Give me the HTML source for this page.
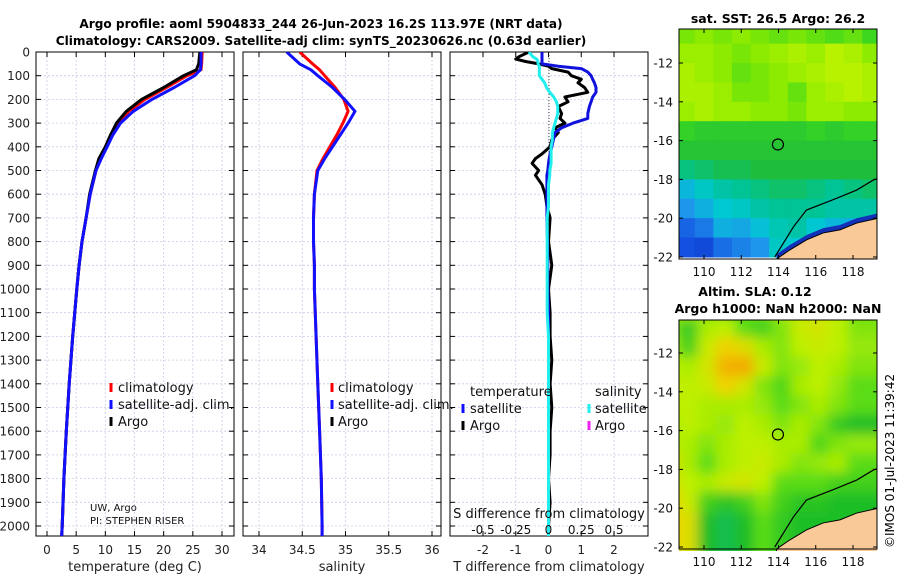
<!DOCTYPE html>
<html><head><meta charset="utf-8"><style>
body{margin:0;background:#fff}
svg{display:block;font-family:"DejaVu Sans","Liberation Sans",sans-serif}
</style></head><body>
<svg id="s" width="900" height="580" viewBox="0 0 900 580" xmlns="http://www.w3.org/2000/svg">
<defs>
<clipPath id="c1"><rect x="36" y="52" width="198" height="484"/></clipPath>
<clipPath id="c2"><rect x="243" y="52" width="198" height="484"/></clipPath>
<clipPath id="c3"><rect x="450" y="52" width="198" height="484"/></clipPath>
<clipPath id="m1c"><rect x="679" y="29" width="198" height="230"/></clipPath>
<clipPath id="m2c"><rect x="679" y="320" width="198" height="231"/></clipPath>
<filter id="bl" x="-5%" y="-5%" width="110%" height="110%"><feGaussianBlur stdDeviation="6"/></filter>
</defs>
<text x="321" y="28" text-anchor="middle" font-size="12.1" font-weight="bold">Argo profile: aoml 5904833_244 26-Jun-2023 16.2S 113.97E (NRT data)</text>
<text x="321" y="45" text-anchor="middle" font-size="12.1" font-weight="bold">Climatology: CARS2009. Satellite-adj clim: synTS_20230626.nc (0.63d earlier)</text>
<text x="778" y="23" text-anchor="middle" font-size="12.5" font-weight="bold">sat. SST: 26.5 Argo: 26.2</text>
<text x="755" y="296" text-anchor="middle" font-size="12.5" font-weight="bold">Altim. SLA: 0.12</text>
<text x="778" y="313" text-anchor="middle" font-size="12.5" font-weight="bold">Argo h1000: NaN h2000: NaN</text>
<text transform="translate(894,548) rotate(-90)" font-size="12">©IMOS 01-Jul-2023 11:39:42</text>
<g id="g"></g>
</svg>
<script>
// ---------- profile data ----------
const depths=[0,50,75,100,150,200,250,300,350,400,450,500,600,700,800,900,1000,1200,1400,1600,1800,2000,2050];
const tempClim=[26.6,26.5,26.4,24.0,20.5,16.8,14.0,12.3,11.2,10.2,9.2,8.4,7.4,6.7,6.0,5.5,5.1,4.4,3.8,3.3,2.9,2.6,2.5];
const tempSat=[26.4,26.4,26.3,25.3,21.8,18.0,14.8,12.6,11.3,10.3,9.3,8.4,7.4,6.7,6.0,5.5,5.1,4.4,3.8,3.3,2.9,2.6,2.5];
const tempArgo=[26.2,26.0,25.6,23.4,20.0,16.2,13.6,11.9,10.9,10.0,8.9,8.3,7.3,6.7,6.0,5.5,5.1,4.4,3.8,3.3,2.9,2.6,2.5];
const salClim=[34.47,34.62,34.70,34.76,34.88,34.98,35.03,34.97,34.90,34.82,34.74,34.67,34.64,34.63,34.63,34.64,34.64,34.66,34.68,34.70,34.72,34.73,34.73];
const salSat=[34.32,34.47,34.60,34.68,34.85,34.99,35.11,35.03,34.94,34.85,34.76,34.68,34.64,34.63,34.63,34.64,34.64,34.66,34.68,34.70,34.72,34.73,34.73];
const dDepth=[0,20,30,40,50,60,70,85,100,115,130,150,170,190,210,230,260,280,300,320,340,370,400,430,450,470,500,520,560,600,650,700,800,900,1000,1100,1200,1300,1400,1500,1600,1700,1800,1900,2000,2050];
const dTArgo=[-0.6,-0.9,-1.0,-0.7,-0.3,0.0,0.1,0.6,0.7,1.0,0.9,1.1,1.2,0.5,0.6,0.3,0.4,0.35,0.5,0.2,0.3,0.1,0.05,-0.2,-0.4,-0.5,-0.3,-0.4,-0.2,-0.1,-0.05,0.05,0.0,0.1,0.0,0.05,0.05,0.1,0.05,0.1,0.05,0.05,0.0,0.05,0.0,0.0];
const dTSat=[-0.2,-0.2,-0.2,-0.2,-0.2,0.3,1.0,1.2,1.3,1.35,1.4,1.45,1.45,1.35,1.3,1.25,1.2,1.2,0.75,0.4,0.2,0.15,0.1,0.05,0.02,0.0,-0.02,-0.05,-0.05,-0.05,-0.05,-0.05,-0.03,-0.02,-0.02,0.0,0.0,0.0,0.0,0.0,0.0,0.0,0.0,0.0,0.0,0.0];
const dSSat=[-0.15,-0.12,-0.09,-0.08,-0.08,-0.07,-0.07,-0.07,-0.07,-0.05,-0.03,-0.015,0.01,0.04,0.06,0.07,0.07,0.06,0.05,0.04,0.03,0.03,0.02,0.02,0.02,0.02,0.01,0.01,0.0,0.0,0.0,-0.01,-0.01,-0.01,-0.01,-0.01,0.0,0.0,0.0,0.0,0.0,0.0,0.0,0.0,0.0,0.0];
const depthTicks=[0,100,200,300,400,500,600,700,800,900,1000,1100,1200,1300,1400,1500,1600,1700,1800,1900,2000];
const tTicks=[0,5,10,15,20,25,30];
const sTicks=[34,34.5,35,35.5,36];
const sTickLabels=["34","34.5","35","35.5","36"];
const dTicks=[-2,-1,0,1,2];
const dsTicks=[-0.5,-0.25,0,0.25,0.5];
// ---------- map data ----------
const lonCenters=[109,110,111,112,113,114,115,116,117,118,119];
const latCenters=[-10.5,-11.5,-12.5,-13.5,-14.5,-15.5,-16.5,-17.5,-18.5,-19.5,-20.5,-21.5];
const sst=[
[27.1,27.2,27.1,27.2,27.1,27.0,27.1,27.0,26.9,27.0,26.8],
[27.3,27.3,27.2,27.1,27.2,27.3,27.4,27.3,27.5,27.4,27.2],
[27.4,27.3,27.2,27.0,27.1,27.2,27.3,27.4,27.5,27.5,27.4],
[27.4,27.4,27.3,27.1,27.1,27.2,27.0,27.3,27.4,27.5,27.4],
[27.3,27.4,27.3,27.3,27.2,27.2,27.1,27.3,27.3,27.2,27.2],
[26.7,26.6,26.6,26.6,26.6,26.6,26.6,26.7,26.6,26.7,26.7],
[26.5,26.5,26.5,26.5,26.5,26.5,26.5,26.5,26.5,26.5,26.5],
[26.1,26.2,26.3,26.3,26.4,26.4,26.4,26.4,26.4,26.4,26.4],
[25.4,25.7,25.9,26.0,26.1,26.2,26.2,26.1,26.0,26.1,26.2],
[25.0,25.3,25.6,25.7,25.9,26.0,26.0,26.0,25.9,25.9,25.9],
[24.5,24.7,25.3,25.2,25.5,25.8,25.9,25.6,25.4,25.3,25.0],
[24.3,24.2,24.6,24.8,25.0,25.7,25.6,25.0,24.5,24.3,24.0]];
const sla=[
[0.15,0.15,0.12,0.10,0.10,0.12,0.14,0.15,0.16,0.15,0.10],
[0.12,0.07,0.14,0.15,0.10,0.08,0.12,0.16,0.17,0.15,0.12],
[0.14,0.08,0.16,0.20,0.18,0.14,0.12,0.15,0.16,0.15,0.13],
[0.15,0.14,0.17,0.24,0.25,0.16,0.12,0.13,0.15,0.14,0.12],
[0.16,0.15,0.16,0.20,0.17,0.12,0.09,0.14,0.15,0.13,0.10],
[0.15,0.15,0.14,0.14,0.14,0.13,0.10,0.12,0.14,0.12,0.10],
[0.14,0.15,0.14,0.13,0.15,0.14,0.12,0.14,0.12,0.07,0.05],
[0.15,0.14,0.12,0.14,0.15,0.15,0.14,0.14,0.09,0.12,0.13],
[0.18,0.14,0.10,0.14,0.15,0.16,0.14,0.12,0.13,0.14,0.10],
[0.18,0.15,0.14,0.16,0.17,0.15,0.10,0.10,0.10,0.08,0.08],
[0.20,0.16,0.08,0.06,0.08,0.12,0.08,0.06,0.06,0.05,0.05],
[0.20,0.18,0.05,0.02,0.05,0.10,0.07,0.05,0.05,0.05,0.05]];
const coastLon=[113.9,114.6,115.5,116.4,117.3,118.2,119.4];
const coastLat=[-22.1,-21.64,-21.12,-20.76,-20.6,-20.25,-19.99];
const isoLon=[113.8,114.8,115.5,116.9,118.2,119.1,119.4];
const isoLat=[-22.0,-20.45,-19.58,-19.06,-18.55,-18.03,-17.93];
const lonTicks=[110,112,114,116,118];
const latTicks=[-12,-14,-16,-18,-20,-22];
const argoLon=113.97, argoLat=-16.2;

const NS="http://www.w3.org/2000/svg";
const G=document.getElementById('g');
function mk(tag,attrs,parent){const e=document.createElementNS(NS,tag);for(const k in attrs)e.setAttribute(k,attrs[k]);(parent||G).appendChild(e);return e;}
const yD=d=>52+d*0.237;
function lin(d0,d1,r0,r1){return v=>r0+(v-d0)*(r1-r0)/(d1-d0);}
const xT=lin(0,30,47,222), xS=lin(34,36,259,432), xDT=lin(-2,2,483,614), xDS=lin(-0.5,0.5,483,614);

function panel(x0,name,xs,ticks,labels,xlabel,showDepth){
  const g=mk('g',{});
  
  
  depthTicks.forEach(d=>{
    const l=mk('line',{x1:x0,x2:x0+198,y1:yD(d),y2:yD(d),stroke:'#c8cce8','stroke-width':0.8,'stroke-dasharray':'2,2'},g);
    
    mk('line',{x1:x0,x2:x0+5,y1:yD(d),y2:yD(d),stroke:'#000'},g);
    mk('line',{x1:x0+193,x2:x0+198,y1:yD(d),y2:yD(d),stroke:'#000'},g);
    if(showDepth){const t=mk('text',{x:30,y:yD(d)+4.5,'text-anchor':'end','font-size':12,fill:'#222'},g);t.textContent=d;
      }
  });
  ticks.forEach((v,i)=>{
    const X=xs(v);
    const l=mk('line',{x1:X,x2:X,y1:52,y2:536,stroke:'#c8cce8','stroke-width':0.8,'stroke-dasharray':'2,2'},g);
    
    mk('line',{x1:X,x2:X,y1:536,y2:531,stroke:'#000'},g);
    mk('line',{x1:X,x2:X,y1:52,y2:57,stroke:'#000'},g);
    const t=mk('text',{x:X,y:554,'text-anchor':'middle','font-size':12,fill:'#222'},g);t.textContent=labels[i];
    
  });
  const r=mk('rect',{x:x0,y:52,width:198,height:484,fill:'none',stroke:'#000','stroke-width':1},g);
  
  const t=mk('text',{x:x0+99,y:571,'text-anchor':'middle','font-size':13,fill:'#222'},g);t.textContent=xlabel;
  
}
panel(36,'temperature-panel',xT,tTicks,tTicks.map(String),'temperature (deg C)',true);
panel(243,'salinity-panel',xS,sTicks,sTickLabels,'salinity',false);
panel(450,'difference-panel',xDT,dTicks,dTicks.map(String),'T difference from climatology',false);

function series(vals,ds,xs,color,w,clip,name){
  const pts=vals.map((v,i)=>xs(v).toFixed(1)+','+yD(ds[i]).toFixed(1)).join(' ');
  const p=mk('polyline',{points:pts,fill:'none',stroke:color,'stroke-width':w,'stroke-linejoin':'round','clip-path':'url(#'+clip+')'});
  
}
series(tempClim,depths,xT,'#f00',3,'c1','temp-climatology-line');
series(tempArgo,depths,xT,'#000',3,'c1','temp-argo-line');
series(tempSat,depths,xT,'#11f',3,'c1','temp-satellite-line');
series(salClim,depths,xS,'#f00',3,'c2','sal-climatology-line');
series(salSat,depths,xS,'#11f',3,'c2','sal-satellite-line');
const z=mk('line',{x1:549,x2:549,y1:52,y2:536,stroke:'#444','stroke-width':1,'stroke-dasharray':'1,2'});

series(dTArgo,dDepth,xDT,'#000',3,'c3','tdiff-argo-line');
series(dTSat,dDepth,xDT,'#11d',3,'c3','tdiff-satellite-line');
series(dSSat,dDepth,xDS,'#2ee',3,'c3','sdiff-satellite-line');

function txt(x,y,s,size,name,anchor){const t=mk('text',{x:x,y:y,'font-size':size,'text-anchor':anchor||'start',fill:'#111'});t.textContent=s;
  return t;}
function mark(x,y,c){const l=mk('line',{x1:x,x2:x,y1:y-9,y2:y,stroke:c,'stroke-width':3});}
[[391,'climatology','#f00'],[408,'satellite-adj. clim.','#11f'],[425,'Argo','#000']].forEach(a=>{
  mark(111,a[0]+1,a[2]);txt(118,a[0]+1,a[1],13,'legend-entry');
  mark(332,a[0]+1,a[2]);txt(338,a[0]+1,a[1],13,'legend-entry');
});
txt(470,396,'temperature',13,'legend-heading');txt(595,396,'salinity',13,'legend-heading');
mark(463,413,'#11f');txt(470,413,'satellite',13,'legend-entry');
mark(463,430,'#000');txt(470,430,'Argo',13,'legend-entry');
mark(589,413,'#2ee');txt(595,413,'satellite',13,'legend-entry');
mark(589,430,'#e2e');txt(595,430,'Argo',13,'legend-entry');
txt(90,511,'UW, Argo',10,'data-source');txt(90,524,'PI: STEPHEN RISER',10,'pi-name');
txt(549,518,'S difference from climatology',13,'s-axis-title','middle');
dsTicks.forEach(v=>txt(xDS(v),534,String(v),12,'s-tick-label','middle'));

// ---------- maps ----------
function cmap(stops,v){
  if(v<=stops[0][0])return stops[0][1];
  for(let i=1;i<stops.length;i++){if(v<=stops[i][0]){const a=stops[i-1],b=stops[i],t=(v-a[0])/(b[0]-a[0]);
    const c=a[1].map((x,k)=>Math.round(x+(b[1][k]-x)*t));return 'rgb('+c.join(',')+')';}}
  const l=stops[stops.length-1][1];return 'rgb('+l.join(',')+')';
}
const sstStops=[[23.5,[0,30,150]],[24.3,[20,80,225]],[25,[30,150,235]],[25.6,[0,200,210]],[26,[0,195,150]],[26.4,[30,190,60]],[26.8,[60,215,30]],[27.2,[140,235,0]],[27.6,[200,245,0]]];
const slaStops=[[-0.05,[0,190,170]],[0.05,[30,190,40]],[0.1,[90,220,20]],[0.15,[190,240,0]],[0.2,[240,210,0]],[0.26,[245,160,0]]];
function drawMap(y0,top,data,stops,clip,name,blur,band){
  const mx=lin(110,118,704,853), my=lin(-12,-22,y0,y0+194);
  const g=mk('g',{'clip-path':'url(#'+clip+')'});
  
  const inner=mk('g',blur?{filter:'url(#bl)'}:{},g);
  data.forEach((row,i)=>row.forEach((v,j)=>{
    const x=mx(lonCenters[j]-0.5-(blur?0.3:0)),y=my(latCenters[i]+0.5+(blur?0.3:0));
    const r=mk('rect',{x:x-(blur?10:0),y:y-(blur?10:0),width:mx(1)-mx(0)+(blur?30:0.5),height:my(0)-my(1)+(blur?30:0.5),fill:cmap(stops,v)},inner);
    
  }));
  if(band){const bp=coastLon.map((l,i)=>mx(l)+','+my(coastLat[i]+0.25)).join(' ')+' '+mx(119.5)+','+my(-23)+' '+mx(113.9)+','+my(-23);
    const b=mk('polygon',{points:bp,fill:'#1530b8'},g);}
  const lp=coastLon.map((l,i)=>mx(l)+','+my(coastLat[i])).join(' ')+' '+mx(119.5)+','+my(-23)+' '+mx(113.9)+','+my(-23);
  const land=mk('polygon',{points:lp,fill:'#f9c998',stroke:'#000','stroke-width':1},g);
  
  const iso=mk('polyline',{points:isoLon.map((l,i)=>mx(l)+','+my(isoLat[i])).join(' '),fill:'none',stroke:'#000','stroke-width':1.2},g);
  
  const c=mk('circle',{cx:mx(argoLon),cy:my(argoLat),r:5.5,fill:'none',stroke:'#000','stroke-width':1.2});
  
  const bottom=y0+196;
  const f=mk('rect',{x:679,y:top,width:198,height:bottom-top,fill:'none',stroke:'#000','stroke-width':1});
  
  lonTicks.forEach(l=>{const X=mx(l);mk('line',{x1:X,x2:X,y1:bottom,y2:bottom-4,stroke:'#000'});mk('line',{x1:X,x2:X,y1:top,y2:top+4,stroke:'#000'});
    txt(X,bottom+17,String(l),12,'lon-tick-label','middle');});
  latTicks.forEach(l=>{const Y=my(l);mk('line',{x1:679,x2:683,y1:Y,y2:Y,stroke:'#000'});mk('line',{x1:873,x2:877,y1:Y,y2:Y,stroke:'#000'});
    txt(673,Y+4.5,String(l),12,'lat-tick-label','end');});
}
drawMap(63,29,sst,sstStops,'m1c','sst-map',false,true);
drawMap(353,320,sla,slaStops,'m2c','sla-map',true,false);
</script>
</body></html>
